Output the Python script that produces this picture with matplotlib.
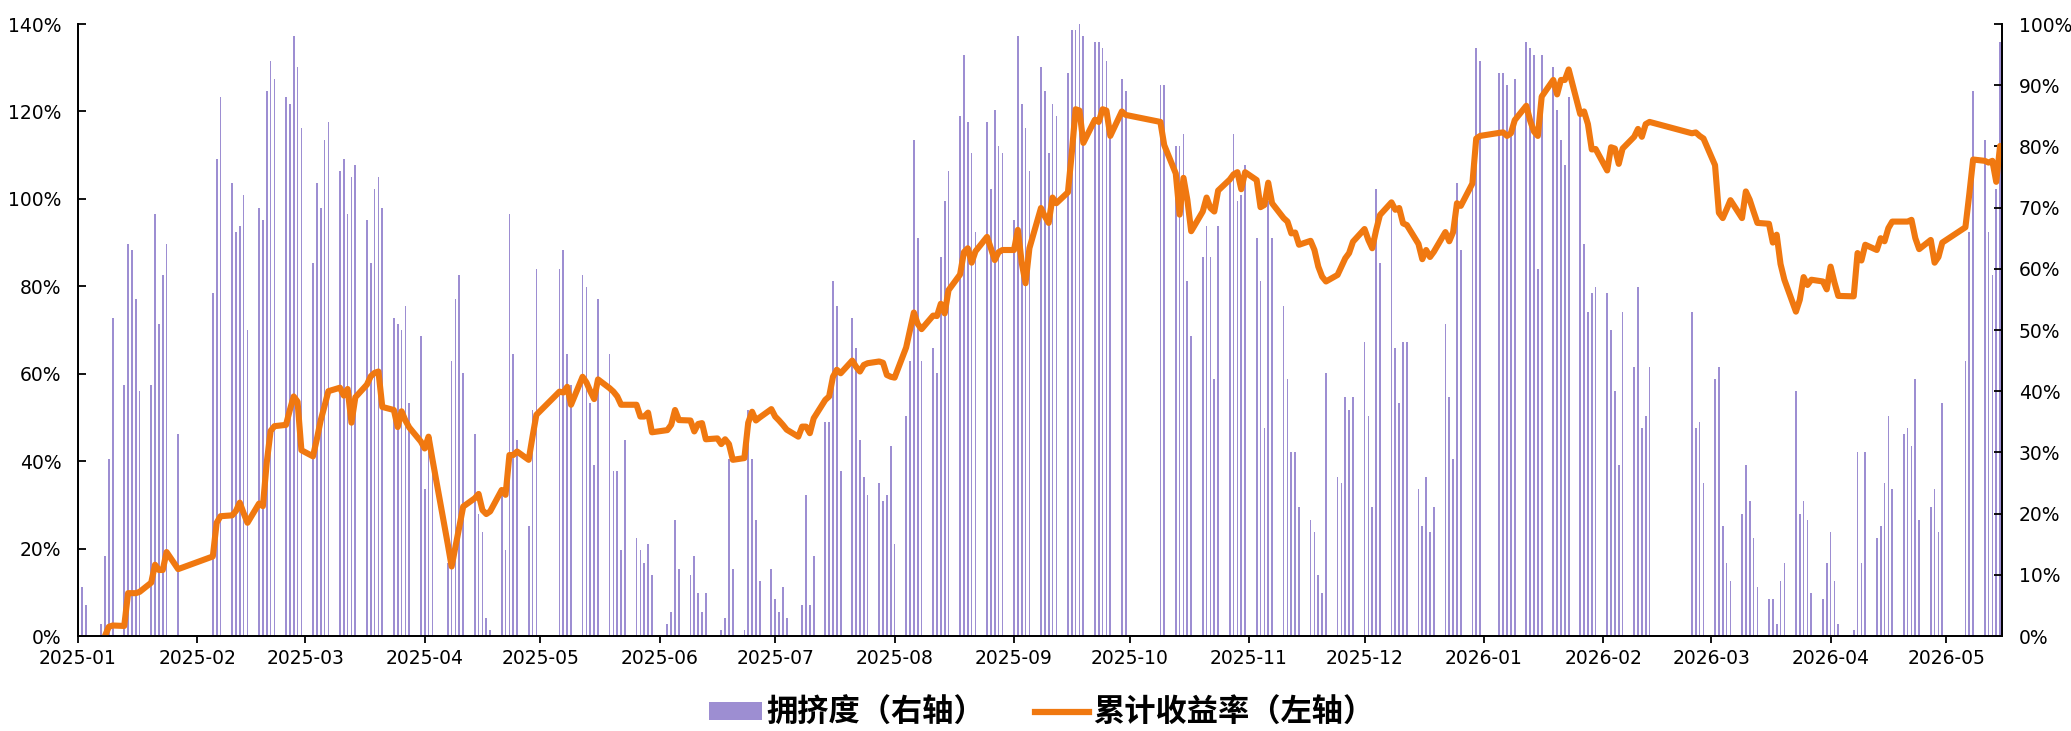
import numpy as np
import pandas as pd
import matplotlib
matplotlib.use("Agg")
import matplotlib.pyplot as plt
import matplotlib.dates as mdates
from matplotlib.patches import Patch
from matplotlib.lines import Line2D
from matplotlib.ticker import PercentFormatter, FixedLocator
from matplotlib.font_manager import FontProperties

plt.rcParams['font.family'] = ['DejaVu Sans']

# ---------------- data ----------------
START = '2025-01-02'
END = '2026-05-15'
HOLIDAYS = ['2025-01-01', '2025-01-28', '2025-01-29', '2025-01-30', '2025-01-31',
            '2025-02-03', '2025-02-04', '2025-04-04', '2025-05-01', '2025-05-02',
            '2025-05-05', '2025-06-02', '2025-10-01', '2025-10-02', '2025-10-03',
            '2025-10-06', '2025-10-07', '2025-10-08', '2026-01-01', '2026-01-02',
            '2026-02-16', '2026-02-17', '2026-02-18', '2026-02-19', '2026-02-20',
            '2026-02-23', '2026-04-06', '2026-05-01', '2026-05-04', '2026-05-05']

# crowding, % (right axis), one value per trading day
crowding_pct = [
    # 2025-01
    8, 5, 0, 2, 13, 29, 52, 41, 64, 63, 55, 40, 41, 69, 51, 59, 64, 33,
    # 2025-02
    56, 78, 88, 74, 66, 67, 72, 50, 70, 68, 89, 94, 91, 88, 87, 98, 93, 83,
    # 2025-03
    61, 74, 70, 81, 84, 76, 78, 69, 75, 77, 68, 61, 73, 75, 70, 52, 51, 50, 54, 38, 49,
    # 2025-04
    24, 32, 29, 12, 45, 55, 59, 43, 33, 20, 17, 3, 1, 24, 14, 69, 46, 32, 18, 37, 60,
    # 2025-05
    60, 63, 46, 41, 59, 57, 38, 28, 55, 46, 27, 27, 14, 32, 16, 14, 12, 15, 10,
    # 2025-06
    2, 4, 19, 11, 10, 13, 7, 4, 7, 0, 1, 3, 29, 11, 1, 37, 29, 19, 9, 11,
    # 2025-07
    6, 4, 8, 3, 0, 5, 23, 5, 13, 35, 35, 58, 54, 27, 52, 47, 32, 26, 23, 25, 22, 23, 31,
    # 2025-08
    15, 36, 45, 81, 65, 45, 47, 43, 62, 71, 76, 85, 95, 84, 79, 66, 84, 73, 86, 80, 79,
    # 2025-09
    68, 98, 87, 83, 76, 93, 89, 79, 87, 85, 92, 99, 99, 100, 98, 97, 97, 96, 94, 83, 91, 89,
    # 2025-10
    90, 90, 80, 80, 82, 58, 49, 62, 67, 62, 42, 67, 74, 82, 71, 72, 77,
    # 2025-11
    65, 58, 34, 71, 65, 54, 42, 30, 30, 21, 19, 17, 10, 7, 43, 26, 25, 39, 37, 39,
    # 2025-12
    48, 36, 21, 73, 61, 71, 47, 38, 48, 48, 24, 18, 26, 17, 21, 51, 39, 29, 74, 63, 77, 96, 94,
    # 2026-01
    92, 92, 90, 82, 91, 97, 96, 95, 60, 95, 93, 86, 81, 77, 88, 85, 64, 53, 56, 57,
    # 2026-02
    56, 50, 40, 28, 53, 44, 57, 34, 36, 44, 53, 34, 35, 25,
    # 2026-03
    42, 44, 18, 12, 9, 20, 28, 22, 16, 8, 6, 6, 2, 9, 12, 40, 20, 22, 19, 7, 6, 12,
    # 2026-04
    17, 9, 2, 1, 30, 12, 30, 16, 18, 25, 36, 24, 33, 34, 31, 42, 19, 21, 24, 17, 38,
    # 2026-05
    45, 66, 89, 81, 66, 59, 73, 97,
]

# cumulative return, % (left axis); None before the series starts
cum_return_pct = [
    # 2025-01
    None, None, None, None, 0, 2.1, 2.4, 2.3, 9.8, 9.8, 9.8, 10.1, 12.2, 16.3, 15.1, 15.1, 19.2, 15.3,
    # 2025-02
    18.2, 25.9, 27.4, 27.6, 28.6, 30.5, 28.1, 25.9, 30.3, 29.7, 39.7, 46.9, 48, 48.3, 51.7, 54.8, 53.6, 42.5,
    # 2025-03
    41.1, 45, 49.3, 52.6, 56, 56.8, 55, 56.5, 48.8, 54.6, 57.5, 59.4, 60.2, 60.5, 52.4, 51.7, 47.8, 51.4, 49.3, 47.7, 44.5,
    # 2025-04
    42.9, 45.6, 40.5, 21, 15.9, 20.4, 25, 29.6, 31.5, 32.5, 28.8, 27.9, 28.5, 33.4, 32.3, 41.4, 41.4, 42.2, 40.3, 45.6, 50.6,
    # 2025-05
    55.9, 55.7, 57, 52.9, 59.3, 58, 56, 54.2, 58.7, 56.7, 55.9, 54.8, 52.9, 52.9, 52.9, 50.2, 50.2, 51.1, 46.6,
    # 2025-06
    47.1, 48.3, 51.7, 49.4, 49.3, 46.8, 48.5, 48.7, 45, 45.2, 43.9, 45, 43.9, 40.3, 40.7, 48.8, 51.3, 49.3, 50, 51.9,
    # 2025-07
    50.2, 49.3, 48.3, 47.2, 45.6, 47.9, 47.9, 46.4, 49.8, 54, 54.8, 59.3, 60.9, 60.1, 63, 61.6, 60.5, 62, 62.4, 62.8, 62.5, 59.7, 59.3,
    # 2025-08
    59.1, 66, 70, 74, 71.4, 70.2, 73.3, 73.2, 76, 73.8, 79.1, 82.7, 87.8, 88.7, 85.4, 88, 91.3, 88.7, 86, 87.8, 88.3,
    # 2025-09
    88.3, 92.9, 85.4, 80.7, 88.7, 97.9, 96, 94.5, 100.3, 99, 101.5, 110.5, 120.5, 120.2, 112.8, 118.1, 117.6, 120.5, 120.2, 114.4, 120, 119.2,
    # 2025-10
    117.6, 112.3, 105.8, 96.4, 104.8, 99.8, 92.6, 97.1, 100.3, 97.9, 97.1, 101.9, 104.4, 105.6, 106.1, 102.2, 106.1,
    # 2025-11
    104.3, 98.1, 98.6, 103.7, 99, 95.6, 94.8, 92.1, 92.3, 89.5, 90.4, 88.3, 84.5, 82.2, 81.1, 82.6, 84.5, 86.4, 87.6, 90.2,
    # 2025-12
    93.1, 90.6, 88.7, 92.8, 96.3, 99.2, 97.5, 97.9, 94.4, 94, 89.7, 86.2, 88.3, 86.7, 87.9, 92.4, 90.3, 92.4, 99, 98.4, 103.5, 113.8, 114.4,
    # 2026-01
    115.1, 115.2, 114.4, 115, 118, 121.3, 117.9, 115.4, 114.4, 123.4, 127.2, 123.9, 127.2, 127.2, 129.6, 119.4, 120, 117.1, 111.3, 111.4,
    # 2026-02
    106.5, 111.8, 111.5, 108, 111.5, 114.2, 116, 114.2, 117.1, 117.6, 115, 115.2, 114.4, 113.8,
    # 2026-03
    107.7, 96.8, 95.6, 97.6, 99.7, 95.6, 101.7, 99.8, 97.1, 94.5, 94.3, 90, 91.8, 85.1, 81.5, 74.2, 76.9, 82.1, 80.3, 81.5, 81.1, 79.3,
    # 2026-04
    84.5, 80.9, 77.8, 77.7, 87.6, 85.9, 89.5, 88.3, 91, 90.3, 93.3, 94.8, 94.8, 94.8, 95.2, 91, 88.5, 90.6, 85.4, 86.7, 90,
    # 2026-05
    93.5, 101, 109, 108.7, 108.3, 108.7, 103.9, 112.1,
]

LEGEND_LABELS = ['拥挤度（右轴）', '累计收益率（左轴）']
LEFT_TICKS = [0, 20, 40, 60, 80, 100, 120, 140]
RIGHT_TICKS = [0, 10, 20, 30, 40, 50, 60, 70, 80, 90, 100]

# ---------------- build ----------------
dates = pd.bdate_range(START, END, freq='C', holidays=HOLIDAYS)
if len(dates) != len(crowding_pct) or len(dates) != len(cum_return_pct):
    raise SystemExit(f"length mismatch: dates={len(dates)} crowd={len(crowding_pct)} ret={len(cum_return_pct)}")

crowd = np.array(crowding_pct, dtype=float) / 100.0
ret = np.array([np.nan if v is None else v for v in cum_return_pct], dtype=float) / 100.0

BAR_COLOR = '#9d8ed2'
LINE_COLOR = '#f07810'

fig = plt.figure(figsize=(20.71, 7.31), dpi=100)
L, R, B, T = 78 / 2071, 2002 / 2071, (731 - 636) / 731, (731 - 24) / 731
ax = fig.add_axes([L, B, R - L, T - B])
ax2 = ax.twinx()

ax2.bar(dates, crowd, width=0.45, color=BAR_COLOR, linewidth=0)
ax.plot(dates, ret, color=LINE_COLOR, lw=4.4, solid_joinstyle='round', solid_capstyle='round')

ax.set_zorder(ax2.get_zorder() + 1)
ax.patch.set_visible(False)

ax.set_ylim(0, 1.4)
ax2.set_ylim(0, 1.0)
ax.yaxis.set_major_locator(FixedLocator([v / 100 for v in LEFT_TICKS]))
ax2.yaxis.set_major_locator(FixedLocator([v / 100 for v in RIGHT_TICKS]))
ax.yaxis.set_major_formatter(PercentFormatter(1.0, decimals=0))
ax2.yaxis.set_major_formatter(PercentFormatter(1.0, decimals=0))

ax.set_xlim(pd.Timestamp('2025-01-01'), pd.Timestamp('2026-05-15 12:00'))
ax.xaxis.set_major_locator(mdates.MonthLocator())
ax.xaxis.set_major_formatter(mdates.DateFormatter('%Y-%m'))

for a in (ax, ax2):
    a.spines['top'].set_visible(False)
    for s in ('left', 'right', 'bottom'):
        a.spines[s].set_linewidth(1.3)
        a.spines[s].set_color('black')

ax.tick_params(axis='y', direction='in', length=6, width=1.3, labelsize=13.5, pad=12)
ax2.tick_params(axis='y', direction='in', length=6, width=1.3, labelsize=13.5, pad=12)
ax.tick_params(axis='x', direction='out', length=5, width=1.3, labelsize=13.5, pad=4)

handles = [Patch(facecolor=BAR_COLOR, edgecolor='none'),
           Line2D([0], [0], color=LINE_COLOR, lw=4.5)]
fig.legend(handles, LEGEND_LABELS, loc='center', bbox_to_anchor=(0.503, 0.025), ncol=2,
           frameon=False,
           prop=FontProperties(family=['Noto Sans CJK SC', 'DejaVu Sans'], weight='bold', size=22.5),
           handlelength=1.7, handleheight=0.5, handletextpad=0.15, columnspacing=1.6,
           borderpad=0.1)

fig.savefig('out.png', dpi=100)
